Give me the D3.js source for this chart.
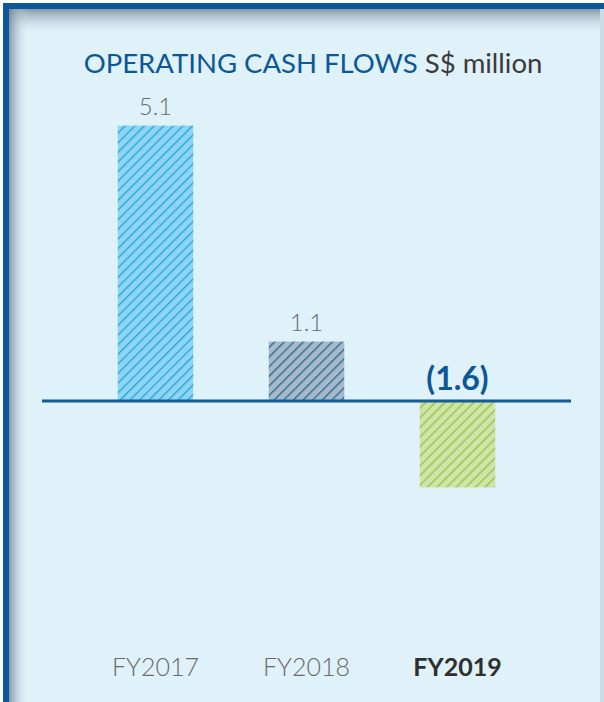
<!DOCTYPE html>
<html>
<head>
<meta charset="utf-8">
<script src="https://cdn.jsdelivr.net/npm/d3@7"></script>
<style>
  html, body { margin: 0; padding: 0; background: #ffffff; }
  svg { display: block; }
  text { font-family: Lato, "Open Sans", sans-serif; }
</style>
</head>
<body>
<script>
// Operating cash flows, S$ million
const categories = ["FY2017", "FY2018", "FY2019"];
const values = [5.1, 1.1, -1.6];
const valueLabels = ["5.1", "1.1", "(1.6)"];
const barFills = ["#8fd4f3", "#a8b8c8", "#cfe4a9"];
const stripeColors = ["#1aa6df", "#1f6a92", "#8dc63f"];

const W = 604, H = 702;
const svg = d3.select("body").append("svg").attr("width", W).attr("height", H);
const defs = svg.append("defs");

// hatch patterns, one per bar
barFills.forEach((fill, i) => {
  const p = defs.append("pattern")
    .attr("id", "hatch" + i)
    .attr("patternUnits", "userSpaceOnUse")
    .attr("width", 10).attr("height", 6.8)
    .attr("patternTransform", "rotate(-45)");
  p.append("rect").attr("width", 10).attr("height", 6.8).attr("fill", fill);
  p.append("line").attr("x1", 0).attr("x2", 10).attr("y1", 0.7).attr("y2", 0.7)
    .attr("stroke", stripeColors[i]).attr("stroke-width", 1.3);
});

// inner shadow gradients for the frame
const gTop = defs.append("linearGradient").attr("id", "shadowTop")
  .attr("x1", 0).attr("y1", 0).attr("x2", 0).attr("y2", 1);
gTop.append("stop").attr("offset", 0).attr("stop-color", "#6f8393").attr("stop-opacity", 0.8);
gTop.append("stop").attr("offset", 1).attr("stop-color", "#dff1f9").attr("stop-opacity", 0);
const gLeft = defs.append("linearGradient").attr("id", "shadowLeft")
  .attr("x1", 0).attr("y1", 0).attr("x2", 1).attr("y2", 0);
gLeft.append("stop").attr("offset", 0).attr("stop-color", "#6f8393").attr("stop-opacity", 0.8);
gLeft.append("stop").attr("offset", 1).attr("stop-color", "#dff1f9").attr("stop-opacity", 0);

// panel and frame
svg.append("rect").attr("x", 3).attr("y", 3).attr("width", W - 3).attr("height", H - 3).attr("fill", "#dff1f9");
svg.append("rect").attr("x", 9).attr("y", 9).attr("width", W - 9).attr("height", 26).attr("fill", "url(#shadowTop)");
svg.append("rect").attr("x", 9).attr("y", 9).attr("width", 20).attr("height", H - 9).attr("fill", "url(#shadowLeft)");
svg.append("rect").attr("x", 600).attr("y", 9).attr("width", 4).attr("height", H - 9).attr("fill", "#c9dde8");
svg.append("rect").attr("x", 3).attr("y", 3).attr("width", W - 3).attr("height", 6).attr("fill", "#0b5798");
svg.append("rect").attr("x", 3).attr("y", 3).attr("width", 6).attr("height", H - 3).attr("fill", "#0b5798");

// title
const title = svg.append("text").attr("x", 313).attr("y", 73)
  .attr("text-anchor", "middle").attr("font-size", 27.5);
title.append("tspan").attr("fill", "#0b5798").text("OPERATING CASH FLOWS ");
title.append("tspan").attr("fill", "#3a3a3a").text("S$ million");

// scales
const x = d3.scaleBand().domain(categories).range([80, 533])
  .paddingInner(0.5).paddingOuter(0.25);
const y = d3.scaleLinear().domain([-2, 6]).range([509, 77]);

// bars
svg.selectAll("rect.bar").data(values).join("rect")
  .attr("class", "bar")
  .attr("x", (d, i) => x(categories[i]))
  .attr("width", x.bandwidth())
  .attr("y", d => d >= 0 ? y(d) : y(0) + 1)
  .attr("height", d => d >= 0 ? y(0) - y(d) : y(d) - y(0) - 1)
  .attr("fill", (d, i) => `url(#hatch${i})`);

// zero line
svg.append("line").attr("x1", 42).attr("x2", 571)
  .attr("y1", y(0)).attr("y2", y(0))
  .attr("stroke", "#155d96").attr("stroke-width", 3);

// value labels
svg.selectAll("text.val").data(values).join("text")
  .attr("class", "val")
  .attr("x", (d, i) => x(categories[i]) + x.bandwidth() / 2)
  .attr("y", d => d >= 0 ? y(d) - 11 : y(0) - 11)
  .attr("text-anchor", "middle")
  .attr("font-size", (d, i) => i === 2 ? 32 : 24)
  .attr("font-weight", (d, i) => i === 2 ? 700 : 300)
  .attr("fill", (d, i) => i === 2 ? "#0b5798" : "#6a6a6a")
  .text((d, i) => valueLabels[i]);

// category labels
svg.selectAll("text.cat").data(categories).join("text")
  .attr("class", "cat")
  .attr("x", d => x(d) + x.bandwidth() / 2)
  .attr("y", 676)
  .attr("text-anchor", "middle")
  .attr("font-size", 25)
  .attr("font-weight", (d, i) => i === 2 ? 700 : 300)
  .attr("fill", (d, i) => i === 2 ? "#2f2f2f" : "#6a6a6a")
  .text(d => d);
</script>
</body>
</html>
